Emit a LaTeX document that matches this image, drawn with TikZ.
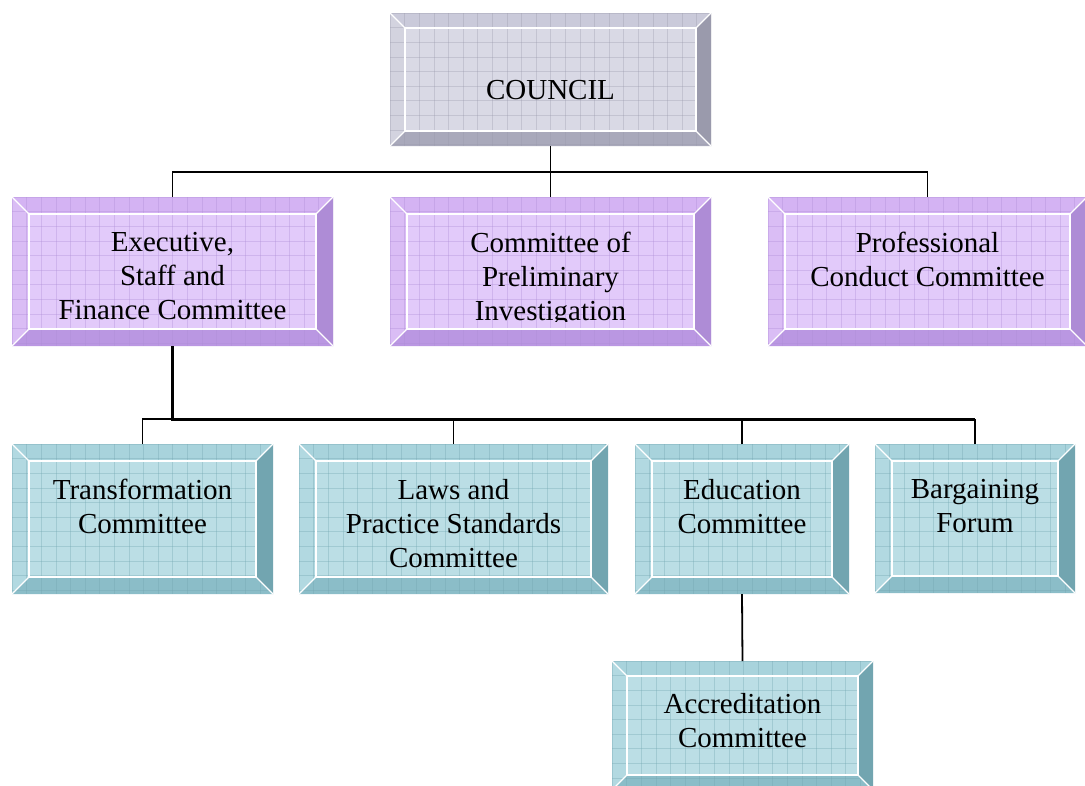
\documentclass[tikz,border=0pt]{standalone}
\usepackage{fontspec}
\setmainfont{Liberation Serif}
\definecolor{gyIn}{HTML}{D9D9E5}
\definecolor{gyTop}{HTML}{CACADA}
\definecolor{gyLf}{HTML}{D3D3DF}
\definecolor{gyRt}{HTML}{9A9AAC}
\definecolor{gyBt}{HTML}{A9A9BB}
\definecolor{puIn}{HTML}{E2CAFA}
\definecolor{puTop}{HTML}{D4B3F3}
\definecolor{puLf}{HTML}{DABDF5}
\definecolor{puRt}{HTML}{AE8CD6}
\definecolor{puBt}{HTML}{BA97E2}
\definecolor{tlIn}{HTML}{BBDEE5}
\definecolor{tlTop}{HTML}{A8D3DC}
\definecolor{tlLf}{HTML}{B2D9E1}
\definecolor{tlRt}{HTML}{72A5B0}
\definecolor{tlBt}{HTML}{8BBDC8}
\tikzset{
  conn/.style={line width=1.8pt, black},
  connthick/.style={line width=3pt, black},
  txt/.style={inner sep=0pt, outer sep=0pt, align=center,
    font=\fontsize{29}{34}\selectfont, execute at begin node=\strut},
  gridline/.style={line width=.5pt, opacity=.35},
  bevline/.style={white, line width=1.2pt},
  boxnode/.style={inner sep=0pt, outer sep=0pt}
}
% #1 name, #2 x1, #3 y1, #4 x2, #5 y2, #6 palette, #7 bevel, #8 text, #9 baseline
\newcommand\bbox[9]{%
  \begin{scope}
    \clip (#2,#3) rectangle (#4,#5);
    \fill[#6Top] (#2,#3) -- (#4,#3) -- ({#4-#7},{#3+#7}) -- ({#2+#7},{#3+#7}) -- cycle;
    \fill[#6Bt] (#2,#5) -- (#4,#5) -- ({#4-#7},{#5-#7}) -- ({#2+#7},{#5-#7}) -- cycle;
    \fill[#6Lf] (#2,#3) -- ({#2+#7},{#3+#7}) -- ({#2+#7},{#5-#7}) -- (#2,#5) -- cycle;
    \fill[#6Rt] (#4,#3) -- ({#4-#7},{#3+#7}) -- ({#4-#7},{#5-#7}) -- (#4,#5) -- cycle;
    \fill[#6In] ({#2+#7},{#3+#7}) rectangle ({#4-#7},{#5-#7});
    \foreach \gx in {0,14.6,...,330} \draw[gridline,#6Rt] ({#2+\gx},#3) -- ({#2+\gx},#5);
    \foreach \gy in {0,14.6,...,160} \draw[gridline,#6Rt] (#2,{#3+\gy}) -- (#4,{#3+\gy});
    \draw[bevline] ({#2+#7},{#3+#7}) rectangle ({#4-#7},{#5-#7});
    \draw[bevline] (#2,#3) -- ({#2+#7},{#3+#7});
    \draw[bevline] (#4,#3) -- ({#4-#7},{#3+#7});
    \draw[bevline] (#2,#5) -- ({#2+#7},{#5-#7});
    \draw[bevline] (#4,#5) -- ({#4-#7},{#5-#7});
  \end{scope}
  \node[boxnode, minimum width={(#4-#2)*1pt}, minimum height={(#5-#3)*1pt}]
    (#1) at ({(#2+#4)/2},{(#3+#5)/2}) {};
  \begin{scope}
    \clip ({#2+#7},{#3+#7}) rectangle ({#4-#7},{#5-#7-8});
    \node[txt, anchor=north] (#1t) at ({(#2+#4)/2},{#9-19}) {#8};
  \end{scope}
}
\begin{document}
\begin{tikzpicture}[x=1pt,y=-1pt]
\useasboundingbox (0,0) rectangle (1085,785);
\clip (0,0) rectangle (1085,785);
\fill[white] (0,0) rectangle (1085,785);

\bbox{council}{390}{13}{711}{146}{gy}{15}{COUNCIL}{95}
\bbox{exec}{12}{197}{333}{346}{pu}{17}{Executive,\\Staff and\\Finance Committee}{251}
\bbox{prelim}{390}{197}{711}{346}{pu}{17}{Committee of\\Preliminary\\Investigation}{251}
\bbox{prof}{768}{197}{1087}{346}{pu}{17}{Professional\\Conduct Committee}{251}
\bbox{trans}{12}{444}{273}{594}{tl}{17}{Transformation\\Committee}{498}
\bbox{laws}{299}{444}{608}{594}{tl}{17}{Laws and\\Practice Standards\\Committee}{498}
\bbox{edu}{635}{444}{849}{594}{tl}{17}{Education\\Committee}{498}
\bbox{barg}{875}{444}{1075}{593}{tl}{17}{Bargaining\\Forum}{498}
\bbox{accr}{612}{661}{873}{790}{tl}{15}{Accreditation\\Committee}{712}

\coordinate (j1) at (council.south |- 0,172);
\draw[conn] (council.south) -- (j1);
\draw[conn] (exec.north) |- (prof.north |- j1) -- (prof.north);
\draw[conn] (j1) -- (prelim.north);

\coordinate (j2) at (exec.south |- 0,419);
\draw[conn] (trans.north) |- (j2);
\draw[conn] (laws.north) -- (laws.north |- j2);
\draw[conn] (edu.north) -- (edu.north |- j2);
\draw[conn] (barg.north) -- (barg.north |- j2);
\draw[connthick] (exec.south) -- (j2) -- (barg.north |- j2);
\draw[conn] (edu.south) -- (accr.north);
\end{tikzpicture}
\end{document}
